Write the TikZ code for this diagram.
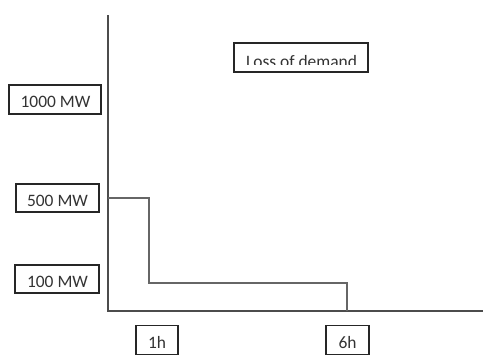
\documentclass[tikz,border=0pt]{standalone}
\usepackage{fontspec}
\setmainfont{Carlito}
\begin{document}
\begin{tikzpicture}[x=1bp,y=-1bp,
  box/.style={draw=black!85, line width=1.3bp, inner sep=0pt, fill=white},
  lbl/.style={font=\fontsize{17.5}{20}\selectfont, text=black!80, inner sep=0pt},
  axis/.style={draw=black!70, line width=1.3bp},
  stepline/.style={draw=black!60, line width=1.3bp}]
\useasboundingbox (0,0) rectangle (483,354);
% axes
\coordinate (ytop) at (108,15);
\coordinate (O) at (108,311);
\coordinate (xend) at (483,311);
\draw[axis] (ytop) -- (O) -- (xend);
% value boxes
\node[box, minimum width=92bp, minimum height=29bp] (b1000) at (55,99.5) {};
\node[lbl] (t1000) at (55.5,102) {1000 MW};
\node[box, minimum width=83bp, minimum height=28bp] (b500) at (57.5,198) {};
\node[lbl] (t500) at (57.5,200.5) {500 MW};
\node[box, minimum width=84bp, minimum height=28bp] (b100) at (57,279) {};
\node[lbl] (t100) at (57.5,282) {100 MW};
\node[box, minimum width=42bp, minimum height=29bp] (b1h) at (157,340) {};
\node[lbl] (t1h) at (157,342.5) {1h};
\node[box, minimum width=43bp, minimum height=29bp] (b6h) at (347.5,340) {};
\node[lbl] (t6h) at (347.5,342.5) {6h};
% loss of demand box with clipped text
\node[box, minimum width=134bp, minimum height=29bp] (bloss) at (301,57.5) {};
\begin{scope}
\clip (234,43) rectangle (368,64.5);
\node[lbl, anchor=base] (tloss) at (301.5,67.5) {Loss of demand};
\end{scope}
% step curve
\coordinate (s0) at (108,198);
\coordinate (s1) at (149,198);
\coordinate (s2) at (149,283);
\coordinate (s3) at (347,283);
\coordinate (s4) at (347,311);
\draw[stepline] (s0) -- (s1) -- (s2) -- (s3) -- (s4);
\end{tikzpicture}
\end{document}
